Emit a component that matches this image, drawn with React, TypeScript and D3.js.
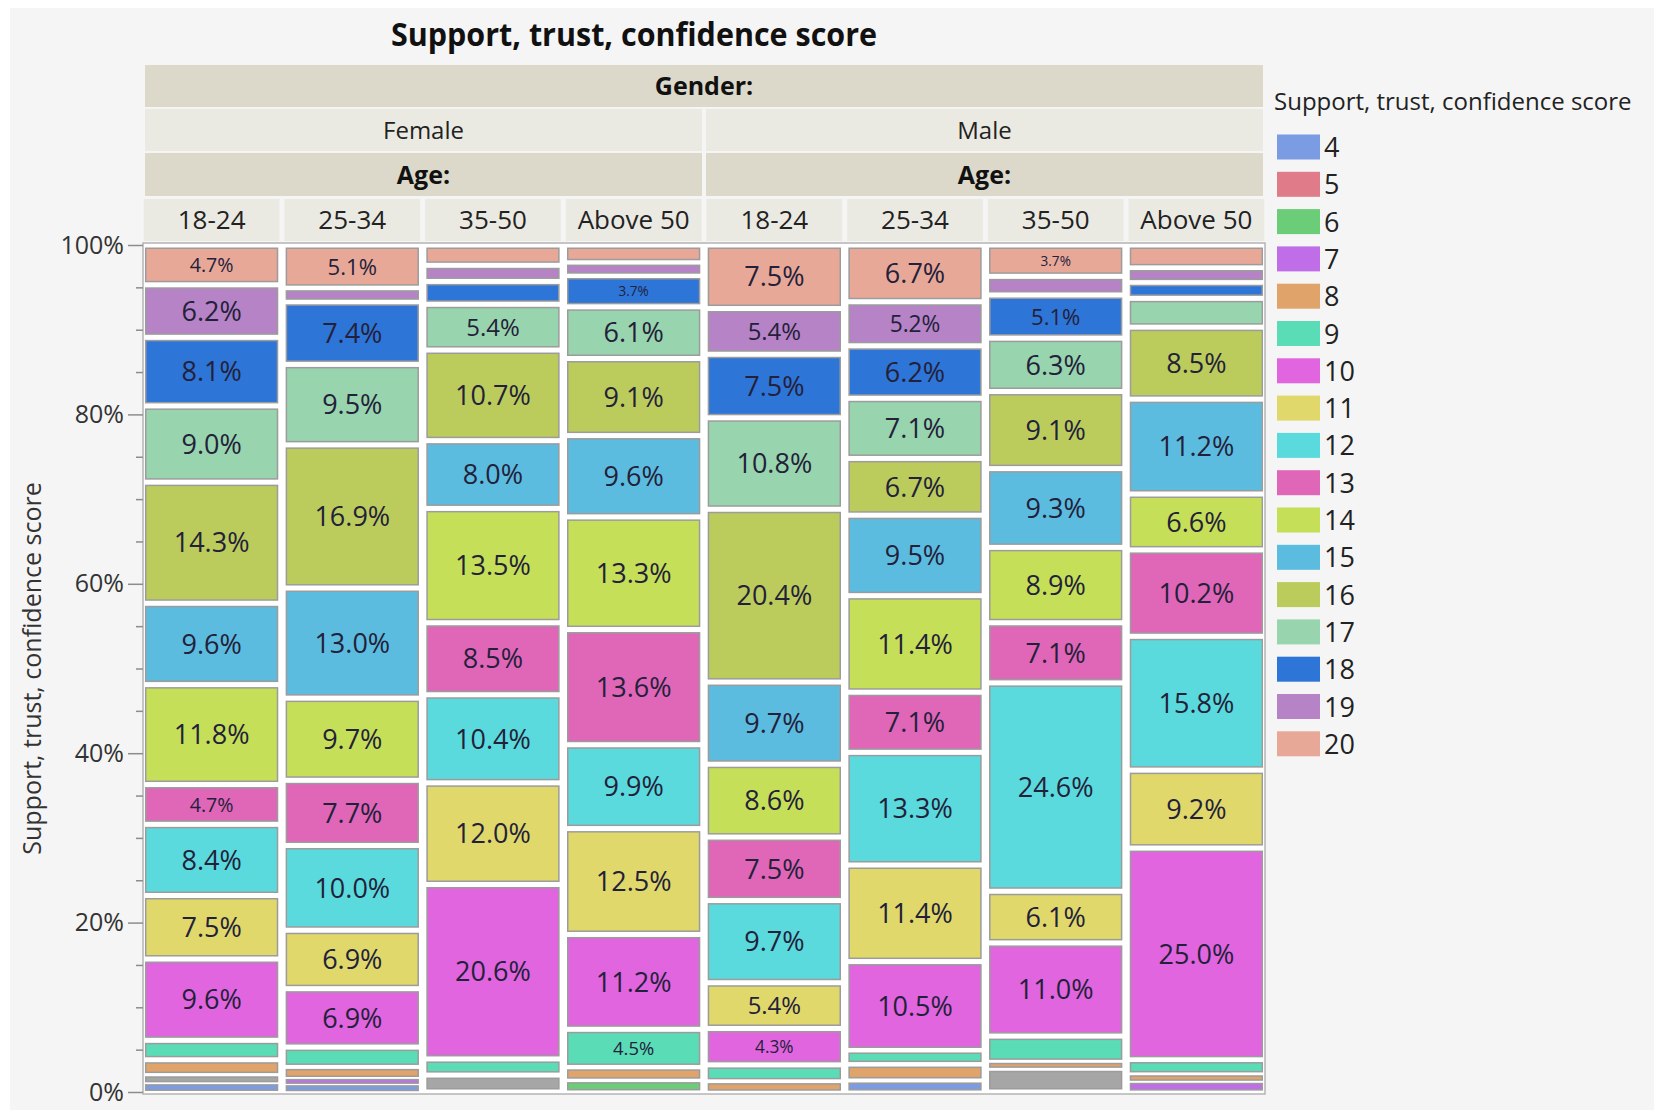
import * as d3 from "d3";
import { useEffect, useRef } from "react";

const chartTitle = "Support, trust, confidence score";
const genders = ["Female", "Male"];
const ageGroups = ["18-24", "25-34", "35-50", "Above 50"];
const scoreLevels = ["4", "5", "6", "7", "8", "9", "10", "11", "12", "13", "14", "15", "16", "17", "18", "19", "20"];
const scoreColors = [
  "#7b9be3", "#e07b8a", "#6ccd78", "#c06de8", "#e0a36a", "#5adcb6", "#e065df", "#e0d86a",
  "#5adadc", "#e066b8", "#c6df58", "#5cbcdf", "#bccc5c", "#98d4ad", "#2e75d8", "#b583c6", "#e8a898",
];
const missingColor = "#a6a6a6";

// share (%) of scores 4..20 within each gender x age column
const female18to24 = [1.05, 0, 0, 0, 1.85, 2.3, 9.6, 7.5, 8.4, 4.7, 11.8, 9.6, 14.3, 9.0, 8.1, 6.2, 4.7];
const female25to34 = [0.9, 0, 0, 0.7, 1.3, 2.4, 6.9, 6.9, 10.0, 7.7, 9.7, 13.0, 16.9, 9.5, 7.4, 1.6, 5.1];
const female35to50 = [0, 0, 0, 0, 0, 1.9, 20.6, 12.0, 10.4, 8.5, 13.5, 8.0, 10.7, 5.4, 2.7, 1.9, 2.4];
const femaleAbove50 = [0, 0, 1.35, 0, 1.55, 4.5, 11.2, 12.5, 9.9, 13.6, 13.3, 9.6, 9.1, 6.1, 3.7, 1.5, 2.1];
const male18to24 = [0, 0, 0, 0, 1.2, 2.0, 4.3, 5.4, 9.7, 7.5, 8.6, 9.7, 20.4, 10.8, 7.5, 5.4, 7.5];
const male25to34 = [1.3, 0, 0, 0, 2.0, 1.6, 10.5, 11.4, 13.3, 7.1, 11.4, 9.5, 6.7, 7.1, 6.2, 5.2, 6.7];
const male35to50 = [0, 0, 0, 0, 0.7, 3.1, 11.0, 6.1, 24.6, 7.1, 8.9, 9.3, 9.1, 6.3, 5.1, 2.2, 3.7];
const maleAbove50 = [0, 0, 0, 1.25, 0.8, 1.75, 25.0, 9.2, 15.8, 10.2, 6.6, 11.2, 8.5, 3.4, 1.9, 1.7, 2.7];
// share (%) without a score, drawn grey just above score 4
const missingShare = [0.9, 0, 2.0, 0, 0, 0, 2.8, 0];

const columnValues = [female18to24, female25to34, female35to50, femaleAbove50, male18to24, male25to34, male35to50, maleAbove50];

const width = 1654;
const height = 1117;
const font = "'Open Sans', 'Noto Sans', sans-serif";

const App = () => {
  const axisRef = useRef<SVGGElement>(null);

  const margin = { top: 245, right: 391, bottom: 25, left: 145 };
  const columns = genders.flatMap((g) => ageGroups.map((a) => `${g}|${a}`));
  const stackKeys = ["4", "NA", ...scoreLevels.slice(1)];
  const colorOf = (k: string) => (k === "NA" ? missingColor : scoreColors[scoreLevels.indexOf(k)]);

  const rows = columns.map((c, i) => {
    const row: Record<string, any> = { column: c, NA: missingShare[i] };
    scoreLevels.forEach((s, j) => (row[s] = columnValues[i][j]));
    return row;
  });
  const series = d3.stack<any>().keys(stackKeys).offset(d3.stackOffsetExpand)(rows);

  const x = d3
    .scaleBand()
    .domain(columns)
    .range([margin.left, width - margin.right])
    .paddingInner(0.063)
    .paddingOuter(0.005);
  const y = d3.scaleLinear().domain([0, 1]).range([height - margin.bottom, margin.top]);
  const bw = x.bandwidth();

  useEffect(() => {
    const g = d3.select(axisRef.current);
    g.selectAll("*").remove();
    const major = g
      .append("g")
      .call(
        d3
          .axisLeft(y)
          .tickValues([0, 0.2, 0.4, 0.6, 0.8, 1])
          .tickFormat(d3.format(".0%"))
          .tickSize(15)
          .tickPadding(4)
      );
    const minor = g
      .append("g")
      .call(
        d3
          .axisLeft(y)
          .tickValues(d3.range(1, 20).filter((i) => i % 4 !== 0).map((i) => i * 0.05))
          .tickFormat(() => "")
          .tickSize(7)
      );
    [major, minor].forEach((a) => {
      a.select(".domain").remove();
      a.selectAll(".tick line").attr("stroke", "#8c8c8c").attr("stroke-width", 1.5);
    });
    major
      .selectAll(".tick text")
      .attr("font-family", font)
      .attr("font-size", 25)
      .attr("fill", "#333");
  }, []);

  const plotLeft = margin.left;
  const plotRight = width - margin.right;
  const mid = (x(columns[3])! + bw + x(columns[4])!) / 2;
  const headerRows = [
    { y0: 65, y1: 107, fill: "#dcd9ca" },
    { y0: 109, y1: 151, fill: "#ebeae2" },
    { y0: 153, y1: 196, fill: "#dcd9ca" },
    { y0: 199, y1: 241, fill: "#ebeae2" },
  ];
  const genderSpans = [
    { label: genders[0], x0: plotLeft, x1: mid - 2 },
    { label: genders[1], x0: mid + 2, x1: plotRight },
  ];

  const legendX = 1277;
  const legendY = 147;
  const legendStep = 37.3;

  return (
    <svg width={width} height={height} style={{ position: "absolute", left: 0, top: 0 }} fontFamily={font}>
      <rect width={width} height={height} fill="#ffffff" />
      <rect x={10} y={8} width={width - 10} height={1102} fill="#f5f5f5" />

      <text
        x={634}
        y={46}
        textAnchor="middle"
        fontSize={32}
        fontWeight="bold"
        fill="#111"
        textLength={486}
        lengthAdjust="spacingAndGlyphs"
      >
        {chartTitle}
      </text>

      {/* header strips */}
      <rect x={plotLeft} y={headerRows[0].y0} width={plotRight - plotLeft} height={headerRows[0].y1 - headerRows[0].y0} fill={headerRows[0].fill} />
      <text x={(plotLeft + plotRight) / 2} y={(headerRows[0].y0 + headerRows[0].y1) / 2 + 9} textAnchor="middle" fontSize={25} fontWeight="bold" fill="#111">
        Gender:
      </text>
      {genderSpans.map((s) => (
        <g key={s.label}>
          <rect x={s.x0} y={headerRows[1].y0} width={s.x1 - s.x0} height={headerRows[1].y1 - headerRows[1].y0} fill={headerRows[1].fill} />
          <text x={(s.x0 + s.x1) / 2} y={(headerRows[1].y0 + headerRows[1].y1) / 2 + 9} textAnchor="middle" fontSize={24} fill="#222">
            {s.label}
          </text>
          <rect x={s.x0} y={headerRows[2].y0} width={s.x1 - s.x0} height={headerRows[2].y1 - headerRows[2].y0} fill={headerRows[2].fill} />
          <text x={(s.x0 + s.x1) / 2} y={(headerRows[2].y0 + headerRows[2].y1) / 2 + 9} textAnchor="middle" fontSize={25} fontWeight="bold" fill="#111">
            Age:
          </text>
        </g>
      ))}
      {columns.map((c) => (
        <g key={c}>
          <rect x={x(c)! - 2} y={headerRows[3].y0} width={bw + 4} height={headerRows[3].y1 - headerRows[3].y0} fill={headerRows[3].fill} />
          <text x={x(c)! + bw / 2} y={(headerRows[3].y0 + headerRows[3].y1) / 2 + 9} textAnchor="middle" fontSize={26} fill="#222">
            {c.split("|")[1]}
          </text>
        </g>
      ))}

      {/* plot frame */}
      <rect x={plotLeft - 2} y={y(1) - 2} width={plotRight - plotLeft + 4} height={y(0) - y(1) + 4} fill="#ffffff" stroke="#b4b4b4" strokeWidth={1.5} />

      {series.map((s) =>
        s.map((d, i) => {
          const top = y(d[1]);
          const bottom = y(d[0]);
          const h = bottom - top;
          if (h <= 0.01) return null;
          const gap = Math.min(6.5, h * 0.4);
          const visH = h - gap;
          const pct = (d[1] - d[0]) * 100;
          const fs = Math.max(12, Math.min(27, (visH - 6) * 0.72));
          return (
            <g key={`${s.key}-${i}`}>
              <rect
                x={x(columns[i])!}
                y={top + gap / 2}
                width={bw}
                height={visH}
                fill={colorOf(s.key)}
                stroke="#9c9c9c"
                strokeWidth={1.5}
              />
              {pct >= 3.5 && (
                <text
                  x={x(columns[i])! + bw / 2}
                  y={top + h / 2 + fs * 0.36}
                  textAnchor="middle"
                  fontSize={fs}
                  fill="#23213a"
                >
                  {pct.toFixed(1)}%
                </text>
              )}
            </g>
          );
        })
      )}

      <g ref={axisRef} transform={`translate(${plotLeft - 2},0)`} />

      <text
        transform={`translate(41,${(y(0) + y(1)) / 2}) rotate(-90)`}
        textAnchor="middle"
        fontSize={25}
        fill="#333"
      >
        {chartTitle}
      </text>

      {/* legend */}
      <text x={1274} y={110} fontSize={24} fill="#222">
        {chartTitle}
      </text>
      {scoreLevels.map((s, i) => (
        <g key={s} transform={`translate(${legendX},${legendY + i * legendStep})`}>
          <rect x={0} y={-12.5} width={43} height={25} fill={scoreColors[i]} />
          <text x={47} y={10} fontSize={27} fill="#222">
            {s}
          </text>
        </g>
      ))}
    </svg>
  );
};

export default App;
